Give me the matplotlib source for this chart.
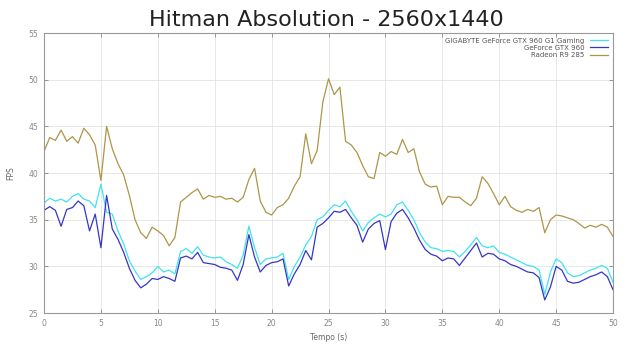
import numpy as np
import matplotlib.pyplot as plt

# samples every 0.5 s from 0 to 50 s
time_s = np.linspace(0, 50, 101)

radeon_r9_285 = [
    42.3, 43.8, 43.5, 44.6, 43.4, 43.9, 43.2, 44.8, 44.1, 43.0,
    39.2, 45.0, 42.6, 41.0, 39.8, 37.6, 35.0, 33.6, 33.0, 34.2,
    33.8, 33.3, 32.2, 33.1, 36.9, 37.4, 37.9, 38.3, 37.2, 37.6,
    37.4, 37.5, 37.2, 37.3, 36.9, 37.4, 39.3, 40.5, 37.0, 35.8,
    35.5, 36.3, 36.6, 37.3, 38.6, 39.6, 44.2, 41.0, 42.4, 47.6,
    50.1, 48.4, 49.2, 43.4, 43.0, 42.2, 40.8, 39.6, 39.4, 42.2,
    41.8, 42.3, 42.0, 43.6, 42.2, 42.6, 40.1, 38.8, 38.5, 38.6,
    36.6, 37.5, 37.4, 37.4, 36.9, 36.5, 37.3, 39.6, 38.9, 37.8,
    36.6, 37.5, 36.4, 36.0, 35.8, 36.1, 35.9, 36.3, 33.6, 35.0,
    35.5, 35.4, 35.2, 35.0, 34.6, 34.1, 34.4, 34.2, 34.5, 34.2,
    33.2,
]

gigabyte_gtx960_g1 = [
    36.8, 37.3, 37.0, 37.2, 36.9, 37.5, 37.8, 37.2, 37.0, 36.3,
    38.8, 35.8, 35.6, 33.8, 32.4, 30.6, 29.5, 28.6, 28.9, 29.3,
    30.0, 29.4, 29.6, 29.2, 31.6, 31.9, 31.4, 32.1, 31.2, 31.0,
    30.9, 31.0, 30.5, 30.2, 29.8, 31.2, 34.3, 32.0, 30.2, 30.8,
    30.9, 31.0, 31.4, 28.6, 30.0, 31.0, 32.3, 33.2, 35.0, 35.3,
    36.0, 36.6, 36.4, 37.0, 35.9, 35.0, 33.8, 34.7, 35.2, 35.6,
    35.3, 35.6, 36.6, 36.9, 36.0, 35.0, 33.6, 32.6, 32.0, 31.9,
    31.6, 31.7, 31.6, 31.0, 31.6, 32.3, 33.1, 32.2, 32.0, 32.2,
    31.5, 31.3, 31.0, 30.7, 30.4, 30.1, 30.0, 29.6, 27.0, 29.4,
    30.8, 30.4, 29.3, 28.9, 29.0, 29.3, 29.6, 29.8, 30.1, 29.8,
    28.3,
]

geforce_gtx960 = [
    36.0, 36.4, 36.0, 34.3, 36.1, 36.3, 37.0, 36.5, 33.8, 35.6,
    32.0, 37.6, 34.0, 32.9, 31.5, 29.8, 28.5, 27.7, 28.1, 28.7,
    28.6, 28.9, 28.7, 28.4, 30.9, 31.1, 30.8, 31.5, 30.4, 30.3,
    30.2, 29.9, 29.8, 29.6, 28.5, 30.2, 33.4, 31.0, 29.4, 30.1,
    30.4, 30.5, 30.8, 27.9, 29.2, 30.2, 31.7, 30.7, 34.2, 34.6,
    35.2, 35.9, 35.8, 36.1, 35.2, 34.4, 32.6, 34.0, 34.6, 34.9,
    31.8, 34.8, 35.7, 36.1, 35.2, 34.1, 32.8, 31.8, 31.3, 31.1,
    30.6, 30.9, 30.8, 30.1, 30.9, 31.7, 32.5, 31.0, 31.4, 31.3,
    30.8, 30.6, 30.2, 30.0, 29.7, 29.4, 29.3, 28.8, 26.4, 27.8,
    30.0, 29.6, 28.4, 28.2, 28.3, 28.6, 28.9, 29.1, 29.4, 28.9,
    27.5,
]

fig = plt.figure(figsize=(6.26, 3.44), dpi=100)
ax = fig.add_axes([0.0703, 0.090, 0.909, 0.814])

ax.plot(time_s, gigabyte_gtx960_g1, color="#3fe3f0", lw=0.9,
        label="GIGABYTE GeForce GTX 960 G1 Gaming")
ax.plot(time_s, geforce_gtx960, color="#3535c8", lw=0.9,
        label="GeForce GTX 960")
ax.plot(time_s, radeon_r9_285, color="#ad9648", lw=0.9,
        label="Radeon R9 285")

ax.set_xlim(0, 50)
ax.set_ylim(25, 55)
ax.set_xticks(np.arange(0, 51, 5))
ax.set_yticks(np.arange(25, 56, 5))
ax.grid(True, color="#e4e4e4", lw=0.6)
ax.set_axisbelow(True)
ax.tick_params(direction="in", length=3, width=0.6, colors="#888888",
               labelsize=5.5, top=True, right=True, pad=4)
for spine in ax.spines.values():
    spine.set_color("#999999")
    spine.set_linewidth(0.8)

ax.set_xlabel("Tempo (s)", fontsize=5.5, color="#666666", labelpad=4)
ax.set_ylabel("FPS", fontsize=5.5, color="#666666", labelpad=10)

fig.text(0.522, 0.925, "Hitman Absolution - 2560x1440", fontsize=16,
         ha="center", va="baseline", color="#222222")

ax.legend(loc="upper right", frameon=False, markerfirst=False,
          fontsize=5, handlelength=2.6, labelspacing=0.15,
          borderaxespad=0.3, labelcolor="#555555")

fig.savefig("out.png", dpi=100)
